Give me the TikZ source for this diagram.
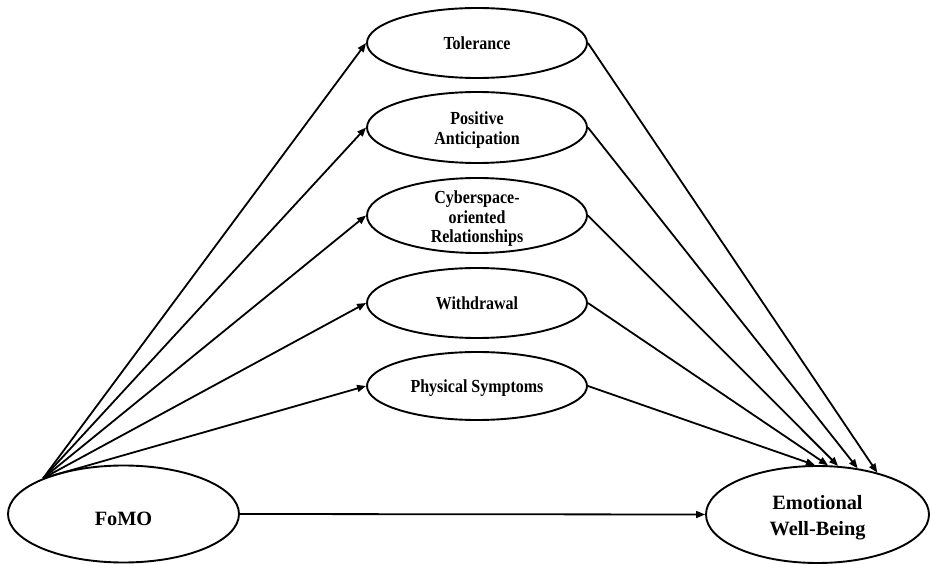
\documentclass[tikz,border=0pt]{standalone}
\usepackage{fontspec}
\setmainfont{Liberation Serif}
\usetikzlibrary{arrows.meta,shapes.geometric}
% centred multi-line label, lowered by #1 and stretched vertically by #2,
% whose box does not enlarge the ellipse around it
\newcommand{\ctext}[3]{\smash{\raisebox{#1}{\scalebox{1}[#2]{\begin{tabular}{@{}c@{}}#3\end{tabular}}}}}
\begin{document}
\begin{tikzpicture}[x=1pt,y=-1pt,
  link/.style={line width=1.8pt,-{Triangle[length=9pt,width=7pt]}},
  construct/.style={ellipse,draw,line width=1.9pt,inner sep=0pt,
    minimum width=231pt,minimum height=97pt,
    font=\fontsize{20.3}{26}\selectfont\bfseries},
  mediator/.style={ellipse,draw,line width=1.9pt,inner sep=0pt,
    minimum width=220pt,minimum height=70pt,
    font=\fontsize{16}{17}\selectfont\bfseries}]
\useasboundingbox (0,0) rectangle (930,564);
\fill[white] (0,0) rectangle (930,564);

% exogenous and outcome constructs
\node[construct] (fomo) at (123.5,514) {\ctext{-11pt}{1}{FoMO}};
\node[construct,minimum width=223pt] (ewb) at (817.5,514.5) {\ctext{-8pt}{1}{Emotional\\Well-Being}};

% mediating dimensions
\node[mediator] (tol) at (477,43) {\ctext{-8pt}{1.15}{Tolerance}};
\node[mediator,minimum height=71pt] (pos) at (477,127.5) {\ctext{-8pt}{1.15}{Positive\\Anticipation}};
\node[mediator,minimum height=75pt] (cyb) at (477,215.5) {\ctext{-9pt}{1.15}{Cyberspace-\\oriented\\Relationships}};
\node[mediator] (wd) at (477,303) {\ctext{-8pt}{1.15}{Withdrawal}};
\node[mediator,minimum height=68pt] (phy) at (477,386) {\ctext{-8pt}{1.15}{Physical Symptoms}};

% paths from FoMO to each mediator
\coordinate (src) at (fomo.156);
\foreach \m in {tol,pos,cyb,wd,phy}
  \draw[link] (src) -- (\m.west);

% paths from each mediator to emotional well-being
\draw[link] (tol.east) -- (ewb.35);
\draw[link] (pos.east) -- (ewb.49);
\draw[link] (cyb.east) -- (ewb.67);
\draw[link] (wd.east)  -- (ewb.78);
\draw[link] (phy.east) -- (ewb.93.5);

% direct path
\draw[link] (fomo.east) -- (ewb.west);
\end{tikzpicture}
\end{document}
